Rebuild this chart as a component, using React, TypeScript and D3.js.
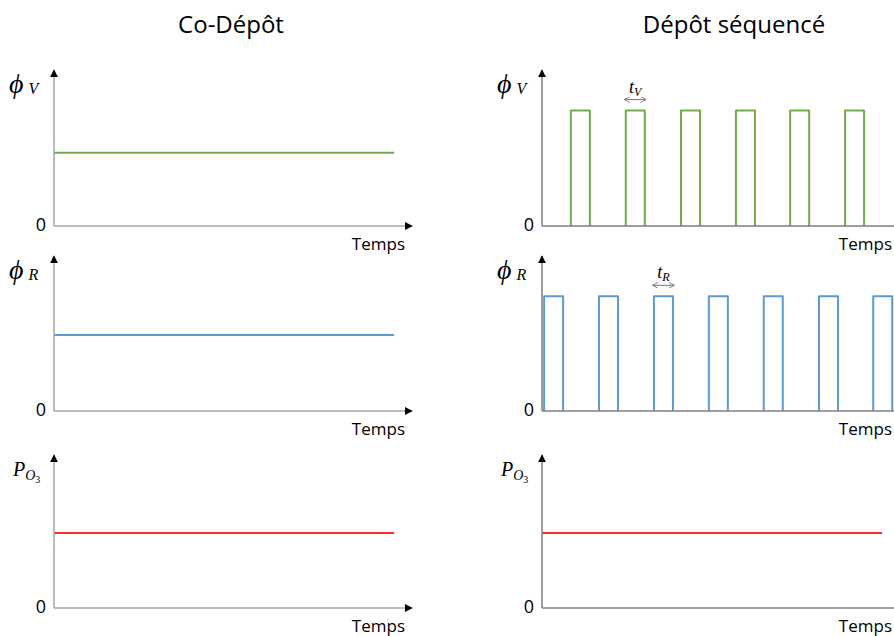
import React from "react";
import * as d3 from "d3";

// ---- data ----
const titles = ["Co-Dépôt", "Dépôt séquencé"];
const rowNames = ["phiV", "phiR", "PO3"];
const rowColors = ["#70ad47", "#5b9bd5", "#ff2a2a"];
const constantLevels = [0.47, 0.49, 0.49]; // co-deposition levels (fraction of axis height)
const pulseLevel = 0.74;
const greenStarts = [0.82, 2.38, 3.95, 5.51, 7.05, 8.61];
const blueStarts = [0.06, 1.62, 3.18, 4.74, 6.30, 7.87, 9.41];
const pulseWidth = 0.54;
const constEndLeft = 9.5;
const constEndRight = 9.66;
const timeDomain = [0, 10];
const zeroLabel = "0";
const xLabel = "Temps";

// ---- layout ----
const W = 894, H = 636;
const rowZero = [226, 411, 608];
const rowTop = [70, 256, 455];
const panels = [
  { axisX: 54, axisEnd: 412 },
  { axisX: 542, axisEnd: 900 },
];

function YLabel({ row, x, y }: { row: number; x: number; y: number }) {
  const f = "'Liberation Serif', 'DejaVu Serif', serif";
  if (row === 0)
    return (
      <text x={x} y={y} fontFamily={f} fontStyle="italic" fill="#000">
        <tspan fontSize={28}>ϕ</tspan>
        <tspan fontSize={16} dx={5} dy={1}>V</tspan>
      </text>
    );
  if (row === 1)
    return (
      <text x={x} y={y} fontFamily={f} fontStyle="italic" fill="#000">
        <tspan fontSize={28}>ϕ</tspan>
        <tspan fontSize={16} dx={5} dy={1}>R</tspan>
      </text>
    );
  return (
    <text x={x + 4} y={y - 2} fontFamily={f} fontStyle="italic" fill="#000">
      <tspan fontSize={20}>P</tspan>
      <tspan fontSize={14} dy={4}>O</tspan>
      <tspan fontSize={10} dy={3} fontStyle="normal">3</tspan>
    </text>
  );
}

export default function App() {
  const sans = "'Open Sans', 'Liberation Sans', sans-serif";
  const line = d3.line<[number, number]>().x((d) => d[0]).y((d) => d[1]);

  const pulsePath = (starts: number[], xs: d3.ScaleLinear<number, number>, ys: d3.ScaleLinear<number, number>) =>
    starts
      .map((s) =>
        line([
          [xs(s), ys(0)],
          [xs(s), ys(pulseLevel)],
          [xs(s + pulseWidth), ys(pulseLevel)],
          [xs(s + pulseWidth), ys(0)],
        ])
      )
      .join(" ");

  return (
    <svg width={W} height={H} style={{ position: "absolute", left: 0, top: 0, background: "#fff" }}>
      <defs>
        <marker id="arr" viewBox="0 0 10 10" refX="9" refY="5" markerWidth="8" markerHeight="8" orient="auto-start-reverse" markerUnits="userSpaceOnUse">
          <path d="M0,0 L10,5 L0,10 z" fill="#000" />
        </marker>
        <marker id="dbl" viewBox="0 0 10 10" refX="9" refY="5" markerWidth="6" markerHeight="6" orient="auto-start-reverse" markerUnits="userSpaceOnUse">
          <path d="M0,0 L10,5 L0,10" fill="none" stroke="#777" strokeWidth={1.5} />
        </marker>
      </defs>
      <text x={231} y={33} textAnchor="middle" fontFamily={sans} fontSize={24} fill="#000">{titles[0]}</text>
      <text x={734} y={33} textAnchor="middle" fontFamily={sans} fontSize={24} fill="#000">{titles[1]}</text>

      {rowNames.map((name, r) =>
        panels.map((p, c) => {
          const ys = d3.scaleLinear().domain([0, 1]).range([rowZero[r], rowZero[r] - (rowZero[r] - rowTop[r])]);
          const xs = d3.scaleLinear().domain(timeDomain).range(c === 0 ? [54, 412] : [542, 894]);
          let series: React.ReactNode = null;
          if (c === 0 || r === 2) {
            const endT = c === 0 ? constEndLeft : constEndRight;
            series = (
              <path d={line([[xs(0), ys(constantLevels[r])], [xs(endT), ys(constantLevels[r])]]) || ""} stroke={rowColors[r]} strokeWidth={2} fill="none" />
            );
          } else {
            const starts = r === 0 ? greenStarts : blueStarts;
            series = <path d={pulsePath(starts, xs, ys)} stroke={rowColors[r]} strokeWidth={2} fill="none" strokeLinejoin="round" />;
          }
          let annot: React.ReactNode = null;
          if (c === 1 && r < 2) {
            const s = r === 0 ? greenStarts[1] : blueStarts[2];
            const ay = ys(pulseLevel) - 11;
            annot = (
              <g>
                <line x1={xs(s) - 1} x2={xs(s + pulseWidth) + 1} y1={ay} y2={ay} stroke="#777" strokeWidth={1} markerStart="url(#dbl)" markerEnd="url(#dbl)" />
                <text x={(xs(s) + xs(s + pulseWidth)) / 2} y={ay - 7} textAnchor="middle" fontFamily="'Liberation Serif', serif" fontStyle="italic" fill="#000">
                  <tspan fontSize={18}>t</tspan>
                  <tspan fontSize={12} dy={3}>{r === 0 ? "V" : "R"}</tspan>
                </text>
              </g>
            );
          }
          const axisColor = c === 0 ? "#a6a6a6" : "#7f7f7f";
          return (
            <g key={name + c}>
              {series}
              <line x1={p.axisX} x2={p.axisX} y1={rowZero[r]} y2={rowTop[r]} stroke={axisColor} strokeWidth={1.5} markerEnd="url(#arr)" />
              <line x1={p.axisX} x2={p.axisEnd} y1={rowZero[r]} y2={rowZero[r]} stroke={axisColor} strokeWidth={1.5} markerEnd={c === 0 ? "url(#arr)" : undefined} />
              <text x={p.axisX - 8} y={rowZero[r] + 5} textAnchor="end" fontFamily={sans} fontSize={18} fill="#000">{zeroLabel}</text>
              <text x={c === 0 ? 405 : 892} y={rowZero[r] + 24} textAnchor="end" fontFamily={sans} fontSize={17} fill="#000">{xLabel}</text>
              <YLabel row={r} x={p.axisX - 45} y={rowTop[r] + 23} />
              {annot}
            </g>
          );
        })
      )}
    </svg>
  );
}
